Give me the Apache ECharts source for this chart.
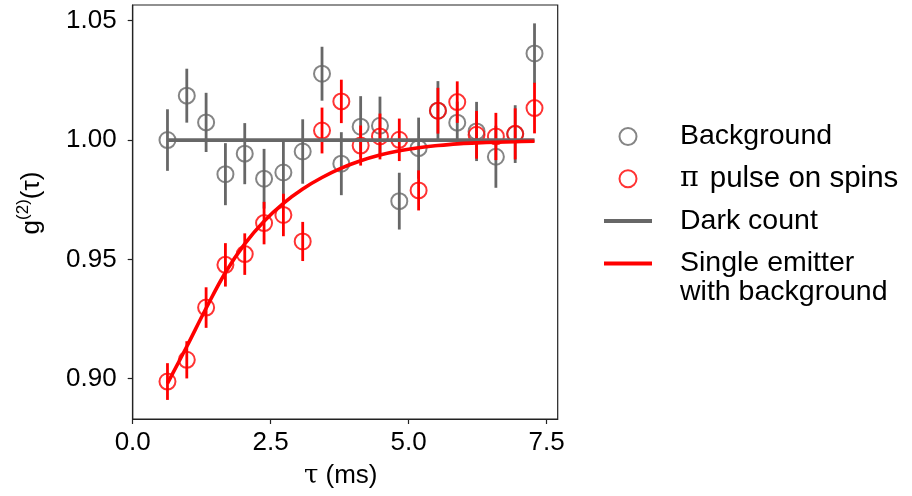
<!DOCTYPE html>
<html>
<head>
<meta charset="utf-8">
<script src="https://cdn.jsdelivr.net/npm/echarts@6/dist/echarts.min.js"></script>
<style>
html, body { margin: 0; padding: 0; background: #fff; }
#chart { width: 912px; height: 496px; }
</style>
</head>
<body>
<div id="chart"></div>
<script>
// ---- data ----
const tau = [0.63, 0.98, 1.33, 1.68, 2.03, 2.38, 2.73, 3.08, 3.43, 3.78, 4.13, 4.48, 4.83, 5.18, 5.53, 5.88, 6.23, 6.58, 6.93, 7.28];
const bgY = [1.0000, 1.0186, 1.0074, 0.9857, 0.9943, 0.9838, 0.9864, 0.9952, 1.0278, 0.9901, 1.0056, 1.0060, 0.9744, 0.9966, 1.0123, 1.0073, 1.0036, 0.9930, 1.0025, 1.0363];
const bgErr = [0.0129, 0.0113, 0.0124, 0.0130, 0.0128, 0.0125, 0.0128, 0.0135, 0.0113, 0.0132, 0.0128, 0.0122, 0.0119, 0.0128, 0.0124, 0.0088, 0.0124, 0.0130, 0.0121, 0.0126];
const piY = [0.8988, 0.9079, 0.9298, 0.9477, 0.9522, 0.9652, 0.9686, 0.9575, 1.0040, 1.0162, 0.9977, 1.0015, 1.0001, 0.9789, 1.0123, 1.0159, 1.0022, 1.0015, 1.0026, 1.0134];
const piErr = [0.0077, 0.0078, 0.0085, 0.0091, 0.0087, 0.0089, 0.0089, 0.0082, 0.0096, 0.0091, 0.0084, 0.0096, 0.0089, 0.0084, 0.0096, 0.0087, 0.0100, 0.0099, 0.0107, 0.0106];
const fitY = [0.8980, 0.9135, 0.9295, 0.9445, 0.9565, 0.9660, 0.9735, 0.9795, 0.9843, 0.9882, 0.9913, 0.9937, 0.9955, 0.9968, 0.9977, 0.9984, 0.9988, 0.9991, 0.9993, 0.9995];
const darkX = [0.63, 7.28];
const darkY = [1.0, 1.0];
const xTicks = [0, 2.5, 5.0, 7.5];
const yTicks = [0.90, 0.95, 1.00, 1.05];
const names = ['Background', 'π pulse on spins', 'Dark count', 'Single emitter'];

// ---- styling ----
const GRAY = '#676767';
const RED = '#ff0000';
const FONT = "'Liberation Sans', Arial, sans-serif";
const SERIF = "'DejaVu Serif', 'Liberation Serif', serif";
const LEG = 28.5;

const zip2 = (a, b) => a.map((v, i) => [v, b[i]]);
const errData = (x, y, e) => x.map((v, i) => [v, y[i] - e[i], y[i] + e[i]]);

function errRender(color) {
  return function (params, api) {
    const p1 = api.coord([api.value(0), api.value(1)]);
    const p2 = api.coord([api.value(0), api.value(2)]);
    return {
      type: 'line',
      shape: { x1: p1[0], y1: p1[1], x2: p2[0], y2: p2[1] },
      style: { stroke: color, lineWidth: 2.8 }
    };
  };
}

const LINE_ICON = 'path://M0,0 L48,0 L48,4 L0,4 Z';

const chart = echarts.init(document.getElementById('chart'), null, { renderer: 'canvas' });

chart.setOption({
  animation: false,
  backgroundColor: '#fff',
  grid: { left: 132.7, right: 354.3, top: 5, bottom: 77, show: true, borderColor: '#222', borderWidth: 1.2, containLabel: false },
  xAxis: {
    type: 'value', min: 0, max: 7.7,
    name: '{t|τ} (ms)', nameLocation: 'middle', nameGap: 44,
    nameTextStyle: { fontFamily: FONT, fontSize: 26, color: '#000', padding: [0, 9, 0, 0],
      rich: { t: { fontFamily: SERIF, fontSize: 26, color: '#000' } } },
    axisLine: { show: true, lineStyle: { color: '#222', width: 1.2 } },
    axisTick: { show: true, length: 5, lineStyle: { color: '#222', width: 1.2 }, customValues: xTicks },
    axisLabel: { customValues: xTicks, fontFamily: FONT, fontSize: 26, color: '#000', margin: 11, formatter: v => v.toFixed(1) },
    splitLine: { show: false }
  },
  yAxis: {
    type: 'value', min: 0.8831, max: 1.0566,
    name: '{g|g}{s|(2)}{g|(τ)}', nameLocation: 'middle', nameGap: 84,
    nameTextStyle: { fontFamily: FONT, fontSize: 26, color: '#000', padding: [0, 0, 0, 18],
      rich: { g: { fontFamily: FONT, fontSize: 26, lineHeight: 34, color: '#000' },
              s: { fontFamily: FONT, fontSize: 17, lineHeight: 34, verticalAlign: 'top', color: '#000' } } },
    axisLine: { show: true, lineStyle: { color: '#222', width: 1.2 } },
    axisTick: { show: true, length: 5, lineStyle: { color: '#222', width: 1.2 }, customValues: yTicks },
    axisLabel: { customValues: yTicks, fontFamily: FONT, fontSize: 26, color: '#000', margin: 16, formatter: v => v.toFixed(2) },
    splitLine: { show: false }
  },
  legend: {
    orient: 'vertical', left: 604, top: 121.5, padding: 0,
    itemWidth: 48, itemHeight: 17, itemGap: 12.3,
    textStyle: { fontFamily: FONT, fontSize: LEG, color: '#000', lineHeight: 30, padding: [0, 0, 0, 23],
      rich: { p: { fontFamily: SERIF, fontSize: LEG, color: '#000', padding: [0, 11, 0, 0] },
              q: { fontFamily: FONT, fontSize: 29.5, color: '#000' } } },
    formatter: n => n === names[1] ? '{p|π}{q|pulse on spins}' : n,
    data: [
      { name: names[0], icon: 'circle', itemStyle: { color: 'rgba(0,0,0,0)', borderColor: GRAY, borderWidth: 2 } },
      { name: names[1], icon: 'circle', itemStyle: { color: 'rgba(0,0,0,0)', borderColor: RED, borderWidth: 2 } },
      { name: names[2], icon: LINE_ICON, itemStyle: { color: GRAY, borderWidth: 0 } },
      { name: names[3], icon: LINE_ICON, itemStyle: { color: RED, borderWidth: 0 } }
    ]
  },
  graphic: [
    { type: 'text', left: 680, top: 278, style: { text: 'with background', font: LEG + "px 'Liberation Sans', Arial, sans-serif", fill: '#000' } }
  ],
  series: [
    { type: 'custom', name: 'bgErr', renderItem: errRender(GRAY), data: errData(tau, bgY, bgErr), encode: { x: 0, y: [1, 2] }, z: 2, silent: true },
    { type: 'scatter', name: names[0], data: zip2(tau, bgY), symbol: 'circle', symbolSize: 16,
      itemStyle: { color: 'rgba(0,0,0,0)', borderColor: GRAY, borderWidth: 2 }, z: 3 },
    { type: 'custom', name: 'piErr', renderItem: errRender(RED), data: errData(tau, piY, piErr), encode: { x: 0, y: [1, 2] }, z: 4, silent: true },
    { type: 'scatter', name: names[1], data: zip2(tau, piY), symbol: 'circle', symbolSize: 16,
      itemStyle: { color: 'rgba(0,0,0,0)', borderColor: RED, borderWidth: 2 }, z: 5 },
    { type: 'line', name: names[2], data: zip2(darkX, darkY), symbol: 'none', lineStyle: { color: GRAY, width: 3.8 }, itemStyle: { color: GRAY }, z: 6 },
    { type: 'line', name: names[3], data: zip2(tau, fitY), symbol: 'none', smooth: 0.4, lineStyle: { color: RED, width: 3.6 }, itemStyle: { color: RED }, z: 7 }
  ]
});
</script>
</body>
</html>
